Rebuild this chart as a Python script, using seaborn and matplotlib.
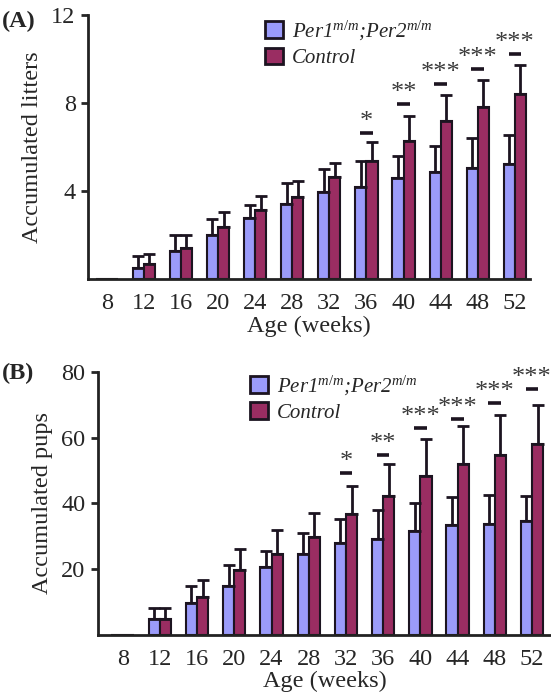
import numpy as np
import pandas as pd
import matplotlib
matplotlib.use("Agg")
import matplotlib.pyplot as plt
import seaborn as sns
from matplotlib.patches import Patch

ages = ["8", "12", "16", "20", "24", "28", "32", "36", "40", "44", "48", "52"]
groups = ["Per1;Per2", "Control"]

litters_mut = [0, 0.52, 1.27, 2.02, 2.77, 3.42, 3.93, 4.16, 4.57, 4.87, 5.06, 5.24]
litters_mut_err = [0, 0.53, 0.75, 0.72, 0.60, 0.92, 1.06, 1.19, 1.02, 1.17, 1.35, 1.28]
litters_ctl = [0, 0.67, 1.39, 2.37, 3.12, 3.72, 4.61, 5.35, 6.25, 7.16, 7.79, 8.42]
litters_ctl_err = [0, 0.45, 0.63, 0.67, 0.66, 0.74, 0.68, 0.87, 1.17, 1.20, 1.23, 1.29]
litters_sig = {"36": ("*", 6.62), "40": ("**", 7.94), "44": ("***", 8.84),
               "48": ("***", 9.54), "52": ("***", 10.22)}

pups_mut = [0, 4.8, 9.8, 14.9, 20.7, 24.7, 27.9, 29.2, 31.6, 33.6, 33.9, 34.6]
pups_mut_err = [0, 3.5, 5.1, 6.3, 4.7, 6.4, 7.5, 8.9, 8.5, 8.3, 8.7, 7.8]
pups_ctl = [0, 4.8, 11.7, 19.9, 24.7, 29.7, 36.8, 42.3, 48.3, 52.0, 54.8, 58.0]
pups_ctl_err = [0, 3.5, 5.0, 6.3, 7.1, 7.4, 8.6, 9.7, 11.4, 11.5, 12.0, 11.8]
pups_sig = {"32": ("*", 49.3), "36": ("**", 54.8), "40": ("***", 63.0), "44": ("***", 65.8),
            "48": ("***", 70.6), "52": ("***", 74.7)}

BLUE = "#9b9bfa"
RED = "#9a2d62"
EDGE = "#1c1420"

sns.set_style("ticks")
serif = "Liberation Serif"
plt.rcParams["font.family"] = [serif, "DejaVu Serif"]
plt.rcParams["mathtext.fontset"] = "custom"
plt.rcParams["mathtext.rm"] = serif
plt.rcParams["mathtext.it"] = serif + ":italic"

FS = 17.5

fig = plt.figure(figsize=(5.51, 6.96), dpi=100)
axA = fig.add_axes([0.160, 0.599, 0.802, 0.380])
axB = fig.add_axes([0.178, 0.0876, 0.822, 0.378])


def panel(ax, mut, mut_err, ctl, ctl_err, sig, ylim, yticks, ylabel, xlim, leg_anchor):
    df = pd.DataFrame({
        "age": ages * 2,
        "group": [groups[0]] * len(ages) + [groups[1]] * len(ages),
        "value": list(mut) + list(ctl),
    })
    sns.barplot(data=df, x="age", y="value", hue="group", order=ages, hue_order=groups,
                palette=[BLUE, RED], width=0.6, edgecolor=EDGE, linewidth=1.5,
                errorbar=None, ax=ax, legend=False, saturation=1)
    for cont, vals, errs in zip(ax.containers, [mut, ctl], [mut_err, ctl_err]):
        xs = [p.get_x() + p.get_width() / 2 for p in cont.patches]
        vals = np.array(vals, dtype=float)
        errs = np.array(errs, dtype=float)
        m = errs > 0
        ax.errorbar(np.array(xs)[m], vals[m], yerr=[np.zeros(m.sum()), errs[m]],
                    fmt="none", ecolor=EDGE, elinewidth=2, capsize=4, capthick=2, zorder=1)
    for age, (stars, yv) in sig.items():
        i = ages.index(age)
        ax.plot([i - 0.17, i + 0.17], [yv, yv], color=EDGE, lw=2.6, solid_capstyle="butt")
        ax.annotate(stars, (i, yv), xytext=(0, 0), textcoords="offset points",
                    ha="center", va="bottom", fontsize=19, color="#3a3a3a")
    ax.set_ylim(*ylim)
    ax.set_xlim(*xlim)
    ax.set_yticks(yticks)
    ax.set_yticklabels([str(t) for t in yticks], fontsize=FS)
    ax.set_xticks(range(len(ages)))
    ax.set_xticklabels(ages, fontsize=FS)
    ax.tick_params(axis="x", length=0, pad=10)
    ax.tick_params(axis="y", length=5, width=2, direction="out", pad=4)
    ax.set_xlabel("Age (weeks)", fontsize=FS, labelpad=1)
    ax.set_ylabel(ylabel, fontsize=FS, labelpad=6)
    for s in ["top", "right"]:
        ax.spines[s].set_visible(False)
    for s in ["left", "bottom"]:
        ax.spines[s].set_linewidth(2)
        ax.spines[s].set_color("#222222")
    handles = [Patch(facecolor=BLUE, edgecolor=EDGE, linewidth=2),
               Patch(facecolor=RED, edgecolor=EDGE, linewidth=2)]
    labels = [r"Per1$^{m/m}$;Per2$^{m/m}$", "Control"]
    ax.legend(handles, labels, loc="upper left", bbox_to_anchor=leg_anchor, frameon=False,
              prop={"style": "italic", "size": 15}, borderpad=0, borderaxespad=0,
              handlelength=0.85, handleheight=0.85, handletextpad=0.45, labelspacing=0.25)


panel(axA, litters_mut, litters_mut_err, litters_ctl, litters_ctl_err, litters_sig,
      (0, 12), [4, 8, 12], "Accumulated litters", (-0.5, 11.41), (0.40, 0.985))
panel(axB, pups_mut, pups_mut_err, pups_ctl, pups_ctl_err, pups_sig,
      (0, 80), [20, 40, 60, 80], "Accumulated pups", (-0.66, 11.51), (0.335, 0.995))

fig.text(0.003, 0.985, "(A)", fontsize=FS, fontweight="bold", va="top", ha="left")
fig.text(0.003, 0.479, "(B)", fontsize=FS, fontweight="bold", va="top", ha="left")

fig.savefig("out.png", dpi=100)
